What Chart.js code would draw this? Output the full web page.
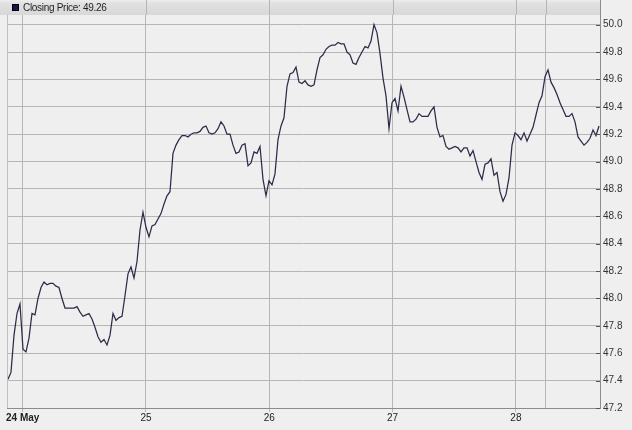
<!DOCTYPE html>
<html>
<head>
<meta charset="utf-8">
<title>Closing Price</title>
<script src="https://cdn.jsdelivr.net/npm/chart.js@4.4.0/dist/chart.umd.min.js"></script>
<style>
    html, body { margin: 0; padding: 0; background: #efefef; }
    #wrap { position: relative; width: 632px; height: 430px; }
    #legend {
        position: absolute; left: 12px; top: 2px;
        font: 10px "Liberation Sans", Arial, sans-serif; color: #1e1e1e;
        letter-spacing: -0.3px; line-height: 12px; white-space: nowrap;
    }
    #legend .box {
        display: inline-block; width: 5px; height: 5px; margin-right: 4px;
        background: #16164a; border: 1px solid #000; vertical-align: 0px;
    }
</style>
</head>
<body>
<div id="wrap">
    <canvas id="priceChart" width="632" height="430"></canvas>
    <div id="legend"><span class="box"></span>Closing Price: 49.26</div>
</div>
<script>
// Closing prices left to right (evenly spaced samples)
var prices = [
    47.41, 47.46, 47.73, 47.89, 47.96, 47.63, 47.61, 47.71, 47.89, 47.88,
    48.00, 48.08, 48.12, 48.10, 48.11, 48.11, 48.09, 48.08, 48.00, 47.93,
    47.93, 47.93, 47.93, 47.94, 47.90, 47.87, 47.88, 47.89, 47.85, 47.79,
    47.72, 47.68, 47.70, 47.66, 47.73, 47.89, 47.84, 47.86, 47.87, 48.02,
    48.18, 48.23, 48.15, 48.27, 48.50, 48.63, 48.52, 48.45, 48.53, 48.54,
    48.58, 48.62, 48.69, 48.75, 48.78, 49.06, 49.12, 49.16, 49.19, 49.19,
    49.18, 49.20, 49.21, 49.21, 49.22, 49.25, 49.26, 49.21, 49.20, 49.21,
    49.24, 49.29, 49.26, 49.20, 49.20, 49.12, 49.06, 49.07, 49.12, 49.13,
    48.97, 48.99, 49.07, 49.06, 49.11, 48.87, 48.75, 48.86, 48.83, 48.91,
    49.16, 49.26, 49.32, 49.55, 49.64, 49.65, 49.69, 49.58, 49.57, 49.59,
    49.56, 49.55, 49.56, 49.67, 49.76, 49.78, 49.82, 49.84, 49.85, 49.85,
    49.87, 49.86, 49.86, 49.80, 49.78, 49.72, 49.71, 49.76, 49.80, 49.84,
    49.83, 49.88, 50.00, 49.94, 49.79, 49.61, 49.48, 49.24, 49.43, 49.46,
    49.37, 49.55, 49.47, 49.38, 49.29, 49.29, 49.31, 49.35, 49.33, 49.33,
    49.33, 49.37, 49.40, 49.25, 49.18, 49.19, 49.11, 49.09, 49.10, 49.11,
    49.10, 49.07, 49.10, 49.10, 49.04, 49.08, 49.00, 48.92, 48.87, 48.98,
    48.99, 49.02, 48.90, 48.92, 48.78, 48.71, 48.76, 48.88, 49.12, 49.21,
    49.19, 49.16, 49.21, 49.15, 49.20, 49.25, 49.34, 49.43, 49.48, 49.62,
    49.67, 49.58, 49.54, 49.49, 49.43, 49.38, 49.33, 49.33, 49.35, 49.29,
    49.18, 49.15, 49.12, 49.14, 49.17, 49.23, 49.19, 49.26
];

// Where each day starts, in sample index units, and its label
var dayStarts = [4.9, 46, 87.1, 128.2, 169.3];
var dayLabels = ['24 May', '25', '26', '27', '28'];
// extra vertical marker line on the last day
var markerAt = [179.2];

// Price axis ticks
var priceTicks = [47.2, 47.4, 47.6, 47.8, 48.0, 48.2, 48.4, 48.6, 48.8, 49.0, 49.2, 49.4, 49.6, 49.8, 50.0];
var priceMin = 47.2;
var priceMax = 50.18;
var xMin = -0.33;
var xMax = 197.33;

var FONT = '"Liberation Sans", Arial, sans-serif';
var GRID = '#b6b6b6';
var AXIS = '#8c8c8c';
var BAND_H = 15;
var LEGEND_W = 112;

// Background, top legend band, left border, inner price ticks
var framePlugin = {
    id: 'frame',
    beforeDraw: function(chart) {
        var ctx = chart.ctx;
        ctx.save();
        ctx.fillStyle = '#efefef';
        ctx.fillRect(0, 0, chart.width, chart.height);
        ctx.restore();
    },
    afterDraw: function(chart) {
        var ctx = chart.ctx;
        var area = chart.chartArea;
        var xScale = chart.scales.x;
        var yScale = chart.scales.y;
        ctx.save();

        // legend band across the top
        var grad = ctx.createLinearGradient(0, 0, 0, BAND_H);
        grad.addColorStop(0, '#ededed');
        grad.addColorStop(0.25, '#e0e0e0');
        grad.addColorStop(1, '#d8d8d8');
        ctx.fillStyle = grad;
        ctx.fillRect(0, 0, area.right, BAND_H);

        // vertical lines show through the band right of the legend text
        ctx.strokeStyle = GRID;
        ctx.lineWidth = 1;
        ctx.beginPath();
        dayStarts.concat(markerAt).forEach(function(v) {
            var x = Math.round(xScale.getPixelForValue(v)) + 0.5;
            if (x > LEGEND_W) {
                ctx.moveTo(x, 0);
                ctx.lineTo(x, BAND_H);
            }
        });
        ctx.stroke();

        // left border below the band
        ctx.strokeStyle = '#c0c0c0';
        ctx.beginPath();
        ctx.moveTo(area.left + 0.5, BAND_H);
        ctx.lineTo(area.left + 0.5, area.bottom);
        ctx.stroke();

        // short dark tick marks just inside the price axis
        ctx.strokeStyle = '#555';
        ctx.beginPath();
        priceTicks.forEach(function(v) {
            var y = Math.round(yScale.getPixelForValue(v)) + 0.5;
            ctx.moveTo(area.right - 4, y);
            ctx.lineTo(area.right, y);
        });
        ctx.stroke();
        ctx.restore();
    }
};

var ctx = document.getElementById('priceChart').getContext('2d');
new Chart(ctx, {
    type: 'line',
    data: {
        datasets: [{
            label: 'Closing Price',
            data: prices.map(function(p, i) { return { x: i, y: p }; }),
            borderColor: '#2c2c4a',
            borderWidth: 1.25,
            pointRadius: 0,
            tension: 0,
            fill: false
        }]
    },
    options: {
        responsive: false,
        animation: false,
        devicePixelRatio: 1,
        layout: { padding: { left: 7, top: 0, right: 0, bottom: 0 } },
        plugins: {
            legend: { display: false },
            tooltip: { enabled: false }
        },
        scales: {
            x: {
                type: 'linear',
                min: xMin,
                max: xMax,
                afterBuildTicks: function(scale) {
                    scale.ticks = dayStarts.concat(markerAt).map(function(v) { return { value: v }; });
                },
                afterFit: function(scale) {
                    scale.height = 22;
                    scale.paddingLeft = 0;
                    scale.paddingRight = 0;
                },
                grid: {
                    color: GRID,
                    drawTicks: true,
                    tickLength: 4,
                    tickColor: function(c) { return c.index < dayLabels.length ? GRID : 'rgba(0,0,0,0)'; }
                },
                border: { color: AXIS },
                ticks: {
                    autoSkip: false,
                    maxRotation: 0,
                    padding: 0,
                    color: '#222',
                    font: function(c) {
                        return { family: FONT, size: 10, weight: c.index === 0 ? 'bold' : 'normal' };
                    },
                    callback: function(value, index) {
                        return index < dayLabels.length ? dayLabels[index] : '';
                    }
                }
            },
            y: {
                type: 'linear',
                position: 'right',
                min: priceMin,
                max: priceMax,
                afterBuildTicks: function(scale) {
                    scale.ticks = priceTicks.map(function(v) { return { value: v }; });
                },
                afterFit: function(scale) {
                    scale.width = 32;
                    scale.paddingTop = 0;
                    scale.paddingBottom = 0;
                },
                grid: { color: GRID, drawTicks: false },
                border: { color: AXIS },
                ticks: {
                    padding: 3,
                    color: '#333',
                    font: { family: FONT, size: 10 },
                    callback: function(value) { return value.toFixed(1); }
                }
            }
        }
    },
    plugins: [framePlugin]
});
</script>
</body>
</html>
